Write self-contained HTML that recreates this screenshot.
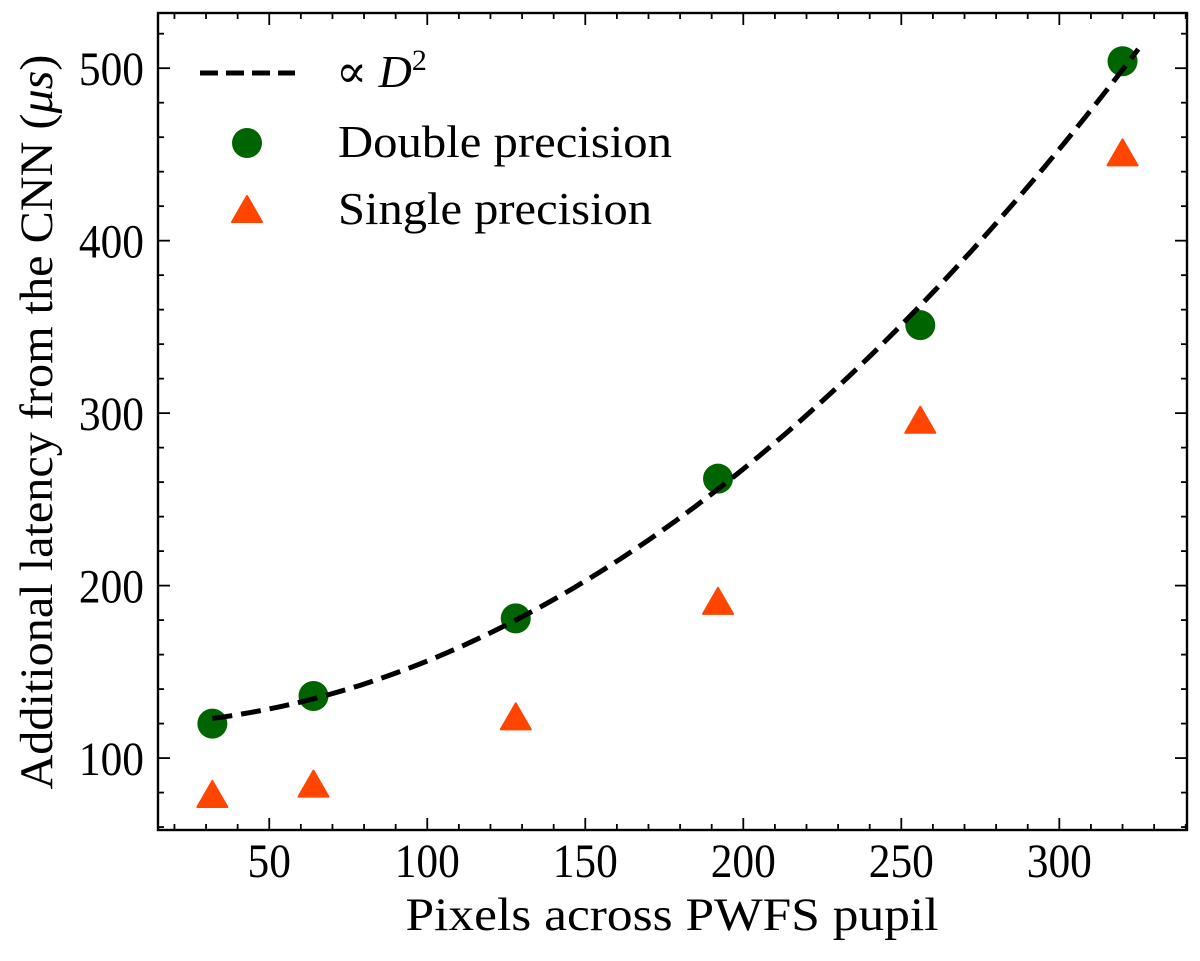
<!DOCTYPE html>
<html><head><meta charset="utf-8"><style>
html,body{margin:0;padding:0;background:#fff;}
svg text{font-family:"Liberation Serif","DejaVu Serif",serif;fill:#000;}
</style></head><body>
<svg id="chart" width="1200" height="956" viewBox="0 0 1200 956" xmlns="http://www.w3.org/2000/svg">
<g id="grid"></g>
<g id="marks"></g>
<rect x="158" y="13" width="1029" height="817" fill="none" stroke="#000" stroke-width="2.4"/>
<g id="ticks"></g>
<text x="672" y="930" font-size="47" text-anchor="middle" textLength="533" lengthAdjust="spacingAndGlyphs">Pixels across PWFS pupil</text>
<text transform="translate(52,422) rotate(-90)" font-size="47" text-anchor="middle" textLength="735" lengthAdjust="spacingAndGlyphs">Additional latency from the CNN (<tspan font-style="italic">μs</tspan>)</text>
<g>
<line x1="200" y1="73" x2="295" y2="73" stroke="#000" stroke-width="5" stroke-dasharray="18,8"/>
<text x="336" y="87" font-size="46">∝ <tspan font-style="italic">D</tspan><tspan dy="-17" font-size="30">2</tspan></text>
<circle cx="247" cy="143" r="15" fill="#006400"/>
<text x="338" y="157" font-size="46" textLength="334" lengthAdjust="spacingAndGlyphs">Double precision</text>
<polygon points="247,196 262,222 232,222" fill="#ff4500" stroke="#ff4500" stroke-width="2" stroke-linejoin="round"/>
<text x="338" y="224" font-size="46" textLength="314" lengthAdjust="spacingAndGlyphs">Single precision</text>
</g>
</svg>
<script>
const pupilPixels = [32, 64, 128, 192, 256, 320];
const doublePrecision = [120, 136, 181, 262, 351, 504];
const singlePrecision = [78, 84, 123, 190, 295, 450];
const fitA = 119.2;
const fitB = 0.00371;
const fitRange = [32, 325];
const xTicks = [50, 100, 150, 200, 250, 300];
const yTicks = [100, 200, 300, 400, 500];

const NS = "http://www.w3.org/2000/svg";
const L = 158, R = 1187, T = 13, B = 830;
const xMin = 14.8, xMax = 340.4, yMin = 58.3, yMax = 532;
const sx = v => L + (v - xMin) / (xMax - xMin) * (R - L);
const sy = v => B - (v - yMin) / (yMax - yMin) * (B - T);
function mk(tag, attrs, parent) {
  const e = document.createElementNS(NS, tag);
  for (const k in attrs) e.setAttribute(k, attrs[k]);
  parent.appendChild(e);
  return e;
}
const ticks = document.getElementById('ticks');
const marks = document.getElementById('marks');
for (let v = 20; v <= 340; v += 10) {
  const major = v % 50 === 0;
  const len = major ? 12 : 6;
  const x = sx(v);
  const t1 = mk('line', {x1: x, y1: B, x2: x, y2: B - len, stroke: '#000', 'stroke-width': 1.8}, ticks);
  
  
  const t2 = mk('line', {x1: x, y1: T, x2: x, y2: T + len, stroke: '#000', 'stroke-width': 1.8}, ticks);
  
  
}
for (let v = 60; v <= 520; v += 20) {
  const major = v % 100 === 0;
  const len = major ? 12 : 6;
  const y = sy(v);
  const t1 = mk('line', {x1: L, y1: y, x2: L + len, y2: y, stroke: '#000', 'stroke-width': 1.8}, ticks);
  
  
  const t2 = mk('line', {x1: R, y1: y, x2: R - len, y2: y, stroke: '#000', 'stroke-width': 1.8}, ticks);
  
  
}
xTicks.forEach(v => {
  const s = String(v);
  const t = mk('text', {x: sx(v), y: 877, 'font-size': 48, 'text-anchor': 'middle', textLength: s.length * 21.7, lengthAdjust: 'spacingAndGlyphs'}, ticks);
  t.textContent = s;
  
  
});
yTicks.forEach(v => {
  const s = String(v);
  const t = mk('text', {x: 144, y: sy(v) + 17, 'font-size': 48, 'text-anchor': 'end', textLength: s.length * 21.7, lengthAdjust: 'spacingAndGlyphs'}, ticks);
  t.textContent = s;
  
  
});
let d = '';
for (let i = 0; i <= 100; i++) {
  const x = fitRange[0] + (fitRange[1] - fitRange[0]) * i / 100;
  d += (i ? 'L' : 'M') + sx(x).toFixed(1) + ',' + sy(fitA + fitB * x * x).toFixed(1);
}
const fit = mk('path', {d: d, fill: 'none', stroke: '#000', 'stroke-width': 5, 'stroke-dasharray': '20,9'}, marks);


pupilPixels.forEach((p, i) => {
  const c = mk('circle', {cx: sx(p), cy: sy(doublePrecision[i]), r: 15, fill: '#006400'}, marks);
  
  
  c.parentNode.insertBefore(c, fit);
});
pupilPixels.forEach((p, i) => {
  const x = sx(p), y = sy(singlePrecision[i]);
  const t = mk('polygon', {points: `${x},${y-15} ${x+15},${y+11} ${x-15},${y+11}`, fill: '#ff4500', stroke: '#ff4500', 'stroke-width': 2, 'stroke-linejoin': 'round'}, marks);
  
  
});
</script>
</body></html>
